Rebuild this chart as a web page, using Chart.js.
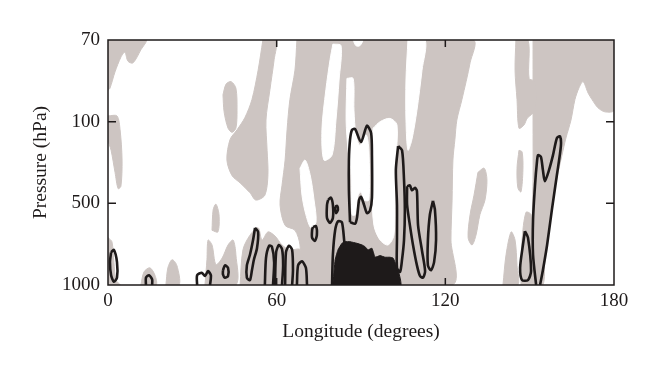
<!DOCTYPE html>
<html>
<head>
<meta charset="utf-8">
<script src="https://cdn.jsdelivr.net/npm/chart.js@4.4.1/dist/chart.umd.min.js"></script>
<style>
  html, body { margin: 0; padding: 0; background: #fff; }
  #wrap { width: 660px; height: 374px; }
</style>
</head>
<body>
<div id="wrap"><canvas id="chart" width="660" height="374"></canvas></div>
<script>
// axis values: longitude in degrees, pressure levels drawn on an even index scale
var lonTicks = [0, 60, 120, 180];
var levelTicks = [0, 1, 2, 3];
var pressureLabels = ["1000", "500", "100", "70"];

// shaded (gray) areas, points are [longitude, level]
var grayShapes = [
  [[0,3],[13.5,3],[11.7,2.88],[8.9,2.72],[7.1,2.74],[6.0,2.85],[4.6,2.79],[2.5,2.61],[0.7,2.41],[0,2.39]],
  [[0,2.07],[3.2,2.07],[4.3,1.90],[5.0,1.53],[4.6,1.21],[3.6,1.18],[2.5,1.38],[1.1,1.65],[0,1.78]],
  [[0,0.58],[1.4,0.53],[2.1,0.28],[2.8,0.06],[4.3,0],[0,0]],
  [[11.7,0],[12.8,0.16],[14.9,0.21],[16.7,0.12],[17.1,0]],
  [[20.6,0],[21.3,0.21],[22.8,0.31],[24.5,0.24],[25.3,0]],
  [[37.0,0.67],[37.4,0.92],[38.4,0.99],[39.5,0.86],[39.1,0.65]],
  [[34.5,0],[35.2,0.31],[35.6,0.55],[37.0,0.49],[38.4,0.25],[40.6,0.33],[42.7,0.49],[44.5,0.55],[45.5,0.37],[45.5,0]],
  [[40.9,2.33],[42.0,2.46],[43.8,2.49],[45.5,2.41],[45.9,2.14],[45.5,1.92],[44.1,1.87],[42.7,1.92],[41.3,2.12]],
  [[55.1,3.0],[59.8,3.0],[59.1,2.76],[57.6,2.39],[56.2,2.02],[56.6,1.65],[56.9,1.35],[55.8,1.10],[52.6,1.04],[50.5,1.13],[47.0,1.25],[44.1,1.34],[42.3,1.53],[43.4,1.78],[45.9,1.90],[48.7,2.05],[51.2,2.27],[53.4,2.63]],
  [[47.0,0],[48.0,0.43],[50.5,0.61],[53.4,0.70],[54.8,0.55],[56.9,0.65],[59.4,0.60],[61.9,0.49],[64.7,0.43],[68.3,0.43],[69.0,0]],
  [[67.2,3],[66.5,2.63],[64.7,2.27],[63.7,1.90],[63.0,1.53],[61.9,1.22],[61.2,0.98],[63.0,0.73],[66.5,0.67],[68.3,0.49],[69.0,0],[122.4,0],[122.0,0.55],[122.4,1.04],[122.7,1.53],[123.4,1.78],[124.1,2.02],[125.9,2.27],[128.8,2.72],[129.8,3]],
  [[131.6,1.38],[133.8,1.43],[134.8,1.29],[134.1,1.04],[132.3,0.86],[130.9,0.61],[129.5,0.49],[128.1,0.58],[128.8,0.86],[130.2,1.10]],
  [[145.1,3],[149.4,3],[149.8,2.53],[151.9,2.49],[151.9,2.14],[149.1,2.04],[148.0,1.96],[146.2,1.92],[145.5,2.27],[144.8,2.63]],
  [[151.2,3],[180,3],[180,2.14],[176.8,2.12],[174.3,2.17],[172.2,2.27],[170.8,2.35],[169.0,2.49],[167.5,2.41],[166.1,2.27],[164.7,2.02],[162.9,1.80],[161.5,1.59],[159.7,1.31],[158.3,1.04],[156.9,0.67],[155.4,0.31],[154.7,0],[151.2,0],[150.8,0.55],[151.2,1.29],[151.2,2.02]],
  [[146.2,1.65],[147.3,1.63],[147.6,1.41],[146.9,1.14],[145.8,1.19],[145.5,1.43]],
  [[140.5,0],[141.6,0.37],[143.4,0.65],[144.8,0.55],[145.5,0.24],[145.8,0]],
  [[146.9,0],[147.3,0.55],[148.7,0.89],[150.5,0.86],[151.2,0]]
];

// unshaded gaps inside the big gray band
var whiteGaps = [
  [[80.0,2.95],[82.9,2.93],[82.2,2.51],[81.1,2.02],[79.7,1.59],[76.8,1.53],[76.1,1.90],[77.5,2.39],[79.0,2.76]],
  [[85.0,2.53],[87.2,2.53],[87.5,2.14],[88.2,1.84],[89.6,1.71],[91.8,1.84],[92.8,1.65],[92.8,1.04],[91.1,1.04],[90.0,1.14],[88.9,1.09],[87.9,0.86],[86.8,0.86],[86.4,1.41],[85.4,1.65],[84.7,2.02]],
  [[106.7,3],[112.8,3],[111.7,2.63],[109.9,2.14],[108.1,1.78],[106.7,1.65],[106.0,2.02],[106.0,2.51]],
  [[94.3,1.92],[96.8,2.00],[100.3,2.04],[102.8,1.96],[102.4,1.53],[102.1,1.04],[101.7,0.61],[99.6,0.49],[96.8,0.55],[94.6,0.73],[93.9,1.16],[93.9,1.65]],
  [[87.2,3],[90.6,3],[89.6,2.93],[88.2,2.93]],
  [[68.3,1.43],[70.1,1.53],[71.9,1.35],[73.3,1.04],[74.0,0.77],[72.2,0.70],[70.4,0.86],[69.0,1.10]]
];

// solid black core near the surface
var blackCore = [[80.0,0],[80.8,0.31],[81.8,0.43],[83.2,0.51],[84.3,0.53],[86.1,0.53],[88.6,0.51],[90.4,0.49],[91.4,0.47],[92.5,0.43],[93.9,0.45],[95.0,0.34],[96.8,0.36],[98.5,0.34],[100.3,0.34],[101.4,0.33],[102.1,0.28],[103.2,0.18],[103.9,0.09],[104.2,0]];

// black contour lines
var contourLoops = [
  [[1.1,0.40],[2.1,0.43],[3.2,0.28],[3.2,0.09],[2.1,0.04],[1.1,0.12],[0.7,0.28],[1.1,0.40]],
  [[13.5,0],[13.5,0.09],[14.6,0.12],[15.7,0.07],[15.7,0]],
  [[31.7,0],[31.7,0.12],[33.4,0.15],[34.5,0.11],[35.6,0.17],[36.6,0.12],[36.3,0]],
  [[40.9,0.18],[41.6,0.24],[42.7,0.21],[42.7,0.11],[41.6,0.09],[40.9,0.13],[40.9,0.18]],
  [[52.3,0.70],[53.4,0.65],[53.0,0.45],[51.9,0.31],[51.2,0.18],[50.5,0.06],[49.4,0.09],[49.4,0.24],[50.5,0.37],[51.6,0.55],[52.3,0.70]],
  [[55.8,0],[56.2,0.33],[57.3,0.48],[58.3,0.47],[59.1,0.28],[58.7,0]],
  [[59.4,0],[59.8,0.40],[60.8,0.49],[61.9,0.44],[62.3,0.24],[61.9,0]],
  [[63.0,0],[63.3,0.40],[64.4,0.48],[65.5,0.43],[65.8,0.18],[65.5,0]],
  [[67.2,0],[67.6,0.24],[69.0,0.29],[70.4,0.21],[70.8,0]],
  [[72.9,0.71],[74.0,0.72],[74.3,0.61],[73.6,0.54],[72.6,0.58],[72.6,0.67],[72.9,0.71]],
  [[78.3,1.04],[79.3,1.07],[80.0,0.98],[80.0,0.82],[79.0,0.76],[77.9,0.82],[77.9,0.98],[78.3,1.04]],
  [[80.8,0.96],[81.5,0.97],[81.8,0.92],[81.1,0.88],[80.8,0.92],[80.8,0.96]],
  [[79.7,0],[80.0,0.37],[80.8,0.67],[81.8,0.78],[83.2,0.77],[84.0,0.55],[84.3,0.43]],
  [[86.1,0.77],[85.7,1.16],[85.7,1.53],[86.1,1.78],[86.8,1.90],[87.9,1.91],[90.0,1.75],[92.1,1.95],[93.6,1.86],[93.9,1.59],[93.9,1.07],[93.2,0.91],[92.1,0.88],[91.1,0.98],[90.0,1.08],[89.3,1.04],[88.6,0.83],[87.9,0.75],[86.1,0.77]],
  [[103.2,1.70],[104.6,1.65],[105.3,1.29],[105.6,0.91],[105.3,0.55],[104.6,0.31],[103.9,0.16],[102.8,0.21],[102.8,0.58],[102.8,0.98],[102.4,1.41],[103.2,1.70]],
  [[106.4,1.21],[107.4,1.22],[108.1,1.16],[109.2,1.19],[109.9,1.15],[110.3,0.73],[111.7,0.42],[112.8,0.17],[112.1,0.09],[111.0,0.11],[109.9,0.24],[108.5,0.49],[107.4,0.73],[106.4,0.98],[106.4,1.21]],
  [[115.6,1.03],[116.3,0.92],[116.7,0.55],[116.0,0.28],[114.9,0.18],[113.8,0.24],[113.8,0.55],[114.5,0.86],[115.6,1.03]],
  [[148.3,0.66],[149.4,0.58],[150.5,0.17],[149.4,0.06],[147.3,0.06],[146.6,0.21],[147.6,0.49],[148.3,0.66]],
  [[152.3,0],[151.2,0.37],[151.2,0.80],[151.9,1.22],[152.6,1.51],[153.0,1.59],[154.0,1.57],[154.7,1.41],[155.4,1.27],[156.9,1.41],[158.3,1.59],[159.7,1.80],[160.8,1.82],[161.1,1.70],[159.7,1.35],[157.9,0.92],[156.2,0.49],[154.7,0.18],[153.7,0]]
];

var gray = "#cdc5c2";
var ink = "#1e1a1a";
var serif = "'Liberation Serif', 'DejaVu Serif', serif";

function toPts(arr) {
    return arr.map(function (p) { return { x: p[0], y: p[1] }; });
}

var datasets = [];
grayShapes.forEach(function (s) {
    datasets.push({ data: toPts(s.concat([s[0]])), showLine: true, fill: "shape",
        backgroundColor: gray, borderColor: gray, borderWidth: 1, tension: 0.3, order: 4 });
});
whiteGaps.forEach(function (s) {
    datasets.push({ data: toPts(s.concat([s[0]])), showLine: true, fill: "shape",
        backgroundColor: "#ffffff", borderColor: "#ffffff", borderWidth: 1, tension: 0.3, order: 3 });
});
datasets.push({ data: toPts(blackCore.concat([blackCore[0]])), showLine: true, fill: "shape",
    backgroundColor: ink, borderColor: ink, borderWidth: 1, tension: 0.1, order: 2 });
contourLoops.forEach(function (s) {
    datasets.push({ data: toPts(s), showLine: true, fill: false,
        borderColor: ink, borderWidth: 2.6, tension: 0.25, order: 1 });
});

// box around the plot plus inward tick marks
var framePlugin = {
    id: "frame",
    afterDraw: function (chart) {
        var c = chart.ctx, a = chart.chartArea, xs = chart.scales.x, ys = chart.scales.y;
        c.save();
        c.strokeStyle = ink;
        c.lineWidth = 1.5;
        c.strokeRect(a.left, a.top, a.right - a.left, a.bottom - a.top);
        c.beginPath();
        lonTicks.slice(1, -1).forEach(function (v) {
            var px = xs.getPixelForValue(v);
            c.moveTo(px, a.bottom); c.lineTo(px, a.bottom - 7);
            c.moveTo(px, a.top); c.lineTo(px, a.top + 7);
        });
        levelTicks.slice(1, -1).forEach(function (v) {
            var py = ys.getPixelForValue(v);
            c.moveTo(a.left, py); c.lineTo(a.left + 8, py);
            c.moveTo(a.right, py); c.lineTo(a.right - 8, py);
        });
        c.stroke();
        c.restore();
    }
};

new Chart(document.getElementById("chart"), {
    type: "scatter",
    data: { datasets: datasets },
    options: {
        responsive: false,
        animation: false,
        layout: { padding: { top: 40, right: 46, left: 0, bottom: 0 } },
        plugins: { legend: { display: false }, tooltip: { enabled: false } },
        elements: { point: { radius: 0 } },
        scales: {
            x: {
                type: "linear", min: 0, max: 180,
                afterBuildTicks: function (s) { s.ticks = lonTicks.map(function (v) { return { value: v }; }); },
                afterFit: function (s) { s.height = 89; },
                grid: { display: false, drawTicks: false },
                border: { display: false },
                ticks: { color: ink, padding: 5, maxRotation: 0, font: { family: serif, size: 19 } },
                title: { display: true, text: "Longitude (degrees)", color: ink, padding: { top: 0, bottom: 30 },
                    font: { family: serif, size: 19.5 } }
            },
            y: {
                type: "linear", min: 0, max: 3,
                afterBuildTicks: function (s) { s.ticks = levelTicks.map(function (v) { return { value: v }; }); },
                afterFit: function (s) { s.width = 108; },
                grid: { display: false, drawTicks: false },
                border: { display: false },
                ticks: { color: ink, padding: 8, font: { family: serif, size: 19 },
                    callback: function (v) { return pressureLabels[levelTicks.indexOf(v)]; } },
                title: { display: true, text: "Pressure (hPa)", color: ink, padding: { top: 29, bottom: 0 },
                    font: { family: serif, size: 19.5 } }
            }
        }
    },
    plugins: [framePlugin]
});
</script>
</body>
</html>
